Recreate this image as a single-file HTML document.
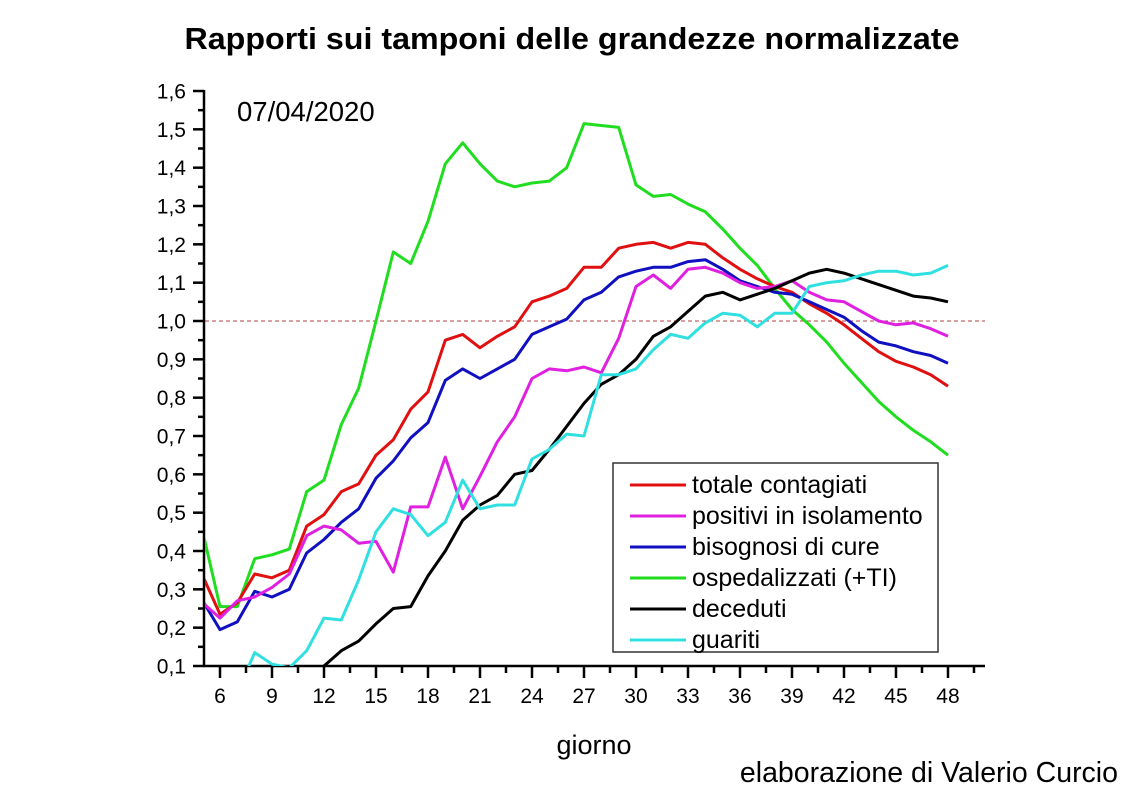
<!DOCTYPE html>
<html><head><meta charset="utf-8"><style>
body{margin:0;background:#fff;width:1141px;height:800px;overflow:hidden}
svg{font-family:"Liberation Sans",Arial,sans-serif}
</style></head><body>
<svg id="s" width="1141" height="800" viewBox="0 0 1141 800">
<text x="572" y="49" font-size="31" font-weight="bold" text-anchor="middle" textLength="775" lengthAdjust="spacingAndGlyphs">Rapporti sui tamponi delle grandezze normalizzate</text>
<text x="237" y="121" font-size="27.5">07/04/2020</text>
<text x="594" y="754" font-size="27" text-anchor="middle">giorno</text>
<text x="1118" y="782" font-size="28.5" text-anchor="end">elaborazione di Valerio Curcio</text>
<line x1="205" y1="321" x2="985" y2="321" stroke="#b04040" stroke-width="1" stroke-dasharray="4,3"/>
<g id="ax" stroke="#000" stroke-width="2.5"></g>
<g id="lab" font-size="21"></g>
<defs><clipPath id="c"><rect x="205" y="80" width="790" height="586"/></clipPath></defs>
<g id="ser" clip-path="url(#c)" fill="none" stroke-width="3" stroke-linejoin="round"></g>
<rect x="613" y="463" width="325" height="189" fill="#fff" stroke="#333" stroke-width="1.5"/>
<g font-size="25">
<line x1="630" y1="485" x2="686" y2="485" stroke="#e01010" stroke-width="3"/><text x="692" y="493">totale contagiati</text>
<line x1="630" y1="516" x2="686" y2="516" stroke="#e020e0" stroke-width="3"/><text x="692" y="524">positivi in isolamento</text>
<line x1="630" y1="547" x2="686" y2="547" stroke="#1010c0" stroke-width="3"/><text x="692" y="555">bisognosi di cure</text>
<line x1="630" y1="578" x2="686" y2="578" stroke="#20dd20" stroke-width="3"/><text x="692" y="586">ospedalizzati (+TI)</text>
<line x1="630" y1="609" x2="686" y2="609" stroke="#000" stroke-width="3"/><text x="692" y="617">deceduti</text>
<line x1="630" y1="640" x2="686" y2="640" stroke="#30e0e0" stroke-width="3"/><text x="692" y="648">guariti</text>
</g>
</svg>
<script>
var X=function(d){return 220+(d-6)*17.333},Y=function(v){return 666-(v-0.1)*383.33};
var ns="http://www.w3.org/2000/svg";
function el(p,t,a){var e=document.createElementNS(ns,t);for(var k in a)e.setAttribute(k,a[k]);p.appendChild(e);return e}
var ax=document.getElementById('ax'),lab=document.getElementById('lab'),ser=document.getElementById('ser');
el(ax,'line',{x1:204,y1:90,x2:204,y2:667});el(ax,'line',{x1:203,y1:666,x2:985,y2:666});
for(var i=0;i<=30;i++){var v=0.1+i*0.05,y=Y(v);var maj=i%2==0;el(ax,'line',{x1:maj?193:198,y1:y,x2:204,y2:y});
if(maj){var t=el(lab,'text',{x:186,y:y+7.5,'text-anchor':'end'});t.textContent=v.toFixed(1).replace('.',',');}}
for(var d=6;d<=49.5;d+=1.5){var x=X(d),maj=((d-6)%3)==0;el(ax,'line',{x1:x,y1:666,x2:x,y2:maj?678:673});
if(maj){var t=el(lab,'text',{x:x,y:703,'text-anchor':'middle'});t.textContent=d;}}
function S(col,start,vals){var p=vals.map(function(v,i){return X(start+i).toFixed(1)+','+Y(v).toFixed(1)}).join(' ');el(ser,'polyline',{points:p,stroke:col});}
S('#20dd20',5,[0.45,0.255,0.255,0.38,0.39,0.405,0.555,0.585,0.73,0.825,1.0,1.18,1.15,1.26,1.41,1.465,1.41,1.365,1.35,1.36,1.365,1.40,1.515,1.51,1.505,1.355,1.325,1.33,1.305,1.285,1.24,1.19,1.145,1.085,1.03,0.99,0.945,0.89,0.84,0.79,0.75,0.715,0.685,0.65]);
S('#e01010',5,[0.335,0.235,0.265,0.34,0.33,0.35,0.465,0.495,0.555,0.575,0.65,0.69,0.77,0.815,0.95,0.965,0.93,0.96,0.985,1.05,1.065,1.085,1.14,1.14,1.19,1.2,1.205,1.19,1.205,1.2,1.165,1.135,1.11,1.09,1.075,1.045,1.02,0.99,0.955,0.92,0.895,0.88,0.86,0.83]);
S('#1010c0',5,[0.27,0.195,0.215,0.295,0.28,0.3,0.395,0.43,0.475,0.51,0.59,0.635,0.695,0.735,0.845,0.875,0.85,0.875,0.9,0.965,0.985,1.005,1.055,1.075,1.115,1.13,1.14,1.14,1.155,1.16,1.135,1.105,1.09,1.075,1.07,1.05,1.03,1.01,0.975,0.945,0.935,0.92,0.91,0.89]);
S('#e020e0',5,[0.265,0.225,0.27,0.28,0.305,0.34,0.44,0.465,0.455,0.42,0.425,0.345,0.515,0.515,0.645,0.51,0.595,0.685,0.75,0.85,0.875,0.87,0.88,0.865,0.955,1.09,1.12,1.085,1.135,1.14,1.125,1.1,1.085,1.09,1.105,1.075,1.055,1.05,1.025,1.0,0.99,0.995,0.98,0.96]);
S('#000',11,[0.05,0.1,0.14,0.165,0.21,0.25,0.255,0.335,0.4,0.48,0.52,0.545,0.6,0.61,0.665,0.725,0.785,0.835,0.86,0.9,0.96,0.985,1.025,1.065,1.075,1.055,1.07,1.085,1.105,1.125,1.135,1.125,1.11,1.095,1.08,1.065,1.06,1.05]);
S('#30e0e0',7,[0.03,0.135,0.105,0.095,0.14,0.225,0.22,0.325,0.45,0.51,0.495,0.44,0.475,0.585,0.51,0.52,0.52,0.64,0.665,0.705,0.7,0.86,0.86,0.875,0.925,0.965,0.955,0.995,1.02,1.015,0.985,1.02,1.02,1.09,1.1,1.105,1.12,1.13,1.13,1.12,1.125,1.145]);
</script>
</body></html>
